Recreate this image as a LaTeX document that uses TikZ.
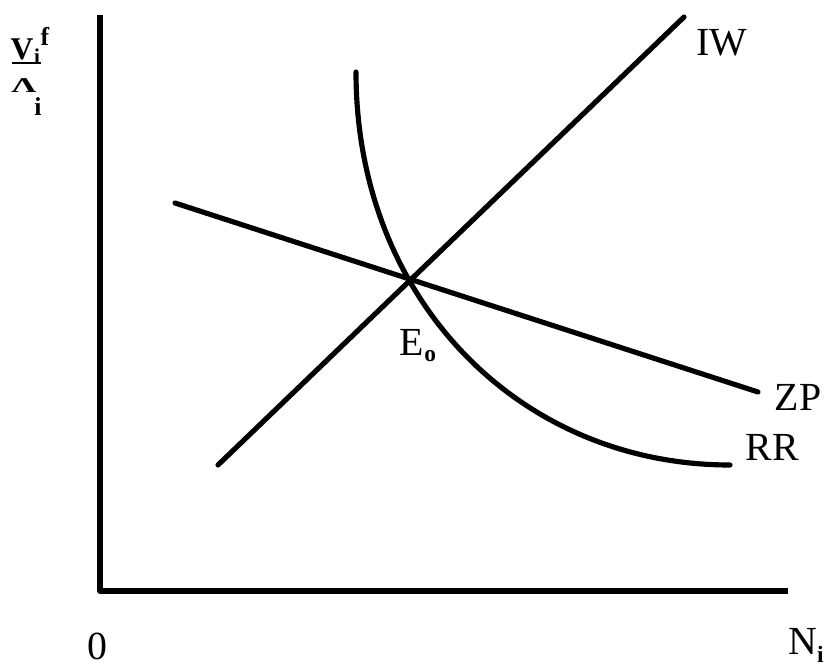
\documentclass[tikz,border=0pt]{standalone}
\usepackage{fontspec}
\setmainfont{Liberation Serif}
\usepackage{graphicx}
\begin{document}
\begin{tikzpicture}[x=0.03cm,y=-0.03cm,
  curve/.style={line width=4.4pt,line cap=round,line join=round},
  lab/.style={inner sep=0pt,font=\fontsize{34}{36}\selectfont},
  small/.style={inner sep=0pt,font=\fontsize{16}{18}\selectfont}]
\useasboundingbox (0,0) rectangle (829,667);
% axes
\coordinate (top) at (100,15);
\coordinate (O) at (100,591);
\coordinate (right) at (788,591);
\draw[curve,line cap=butt] (top) -- (O) -- (right);
% curve end points
\coordinate (iwA) at (218,465);
\coordinate (iwB) at (684,17);
\coordinate (zpA) at (175,203);
\coordinate (zpB) at (758,392);
\coordinate (rrA) at (356,72);
\coordinate (rrB) at (730,465);
\draw[curve] (iwA) -- (iwB);
\draw[curve] (zpA) -- (zpB);
\draw[curve] (rrA) .. controls (356,300) and (520,465) .. (rrB);
% labels
\node[lab] (iw) at (722,43) {IW};
\node[lab] (zp) at (798,397) {ZP};
\node[lab] (rr) at (772,447) {RR};
\node[lab] (e0) at (418,346) {E\raisebox{-0.15em}{\fontsize{20}{22}\selectfont\bfseries o}};
\node[lab] (zero) at (97,646) {0};
\node[lab] (ni) at (806,645) {N\raisebox{-0.2em}{\fontsize{20}{22}\selectfont\bfseries i}};
% y label
\node[inner sep=0pt,font=\fontsize{27}{30}\selectfont\bfseries] (yv) at (22,49) {V};
\node[small,font=\fontsize{18}{20}\selectfont\bfseries] (yvi) at (37,56) {i};
\node[small,font=\fontsize{22}{24}\selectfont\bfseries] (yf) at (45,36) {f};
\draw[line width=1.8pt] (12,63) -- (41,63);
\node[inner sep=0pt,font=\fontsize{30}{32}\selectfont\bfseries] (ylam) at (24,86) {\scalebox{1}[0.6]{Λ}};
\node[inner sep=0pt,font=\fontsize{22}{24}\selectfont\bfseries] (yi) at (38,107) {i};
\end{tikzpicture}
\end{document}
